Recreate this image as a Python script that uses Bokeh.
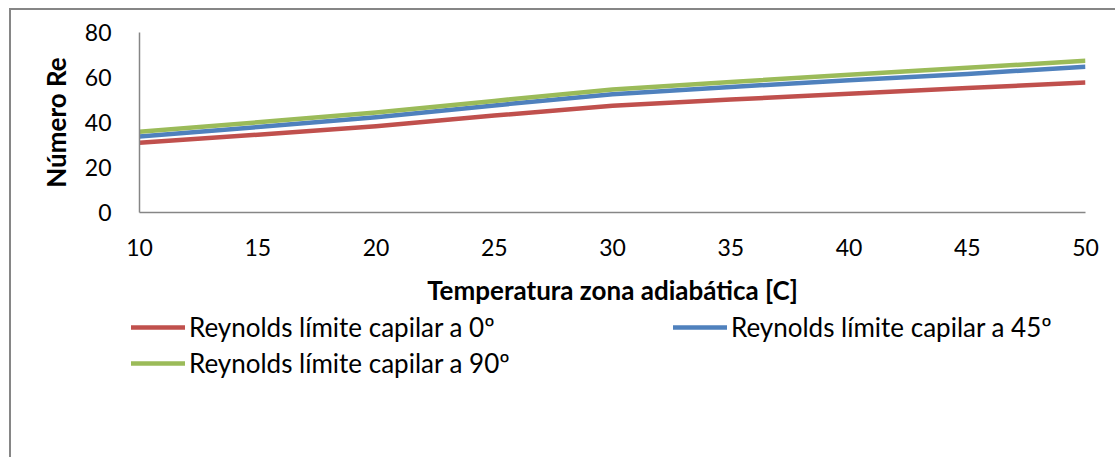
from bokeh.plotting import figure
from bokeh.models import Range1d, FixedTicker, Legend, LegendItem, ColumnDataSource
from bokeh.embed import file_html
from bokeh.resources import INLINE

# Adiabatic-zone temperature [C] and capillary-limit Reynolds numbers
temperatura = [10, 15, 20, 25, 30, 35, 40, 45, 50]
re_0 = [31.0, 34.6, 38.3, 43.1, 47.4, 50.2, 52.8, 55.3, 57.8]
re_45 = [33.8, 38.0, 42.3, 47.6, 52.6, 55.8, 58.8, 61.6, 64.8]
re_90 = [35.9, 40.1, 44.4, 49.6, 54.7, 58.0, 61.2, 64.3, 67.4]

series_labels = ["Reynolds límite capilar a 0º",
                 "Reynolds límite capilar a 45º",
                 "Reynolds límite capilar a 90º"]
series_colors = ["#C0504D", "#4F81BD", "#9BBB59"]
x_ticks = [10, 15, 20, 25, 30, 35, 40, 45, 50]
y_ticks = [0, 20, 40, 60, 80]

FONT = "Lato"
AXIS_GREY = "#868686"
LINE_W = 4.5
BORDER = "2px solid #868686"

# --- chart area -------------------------------------------------------------
p = figure(width=1106, height=300, output_backend="svg", toolbar_location=None,
           x_range=Range1d(10, 50), y_range=Range1d(0, 80),
           min_border_left=128, min_border_right=32,
           min_border_top=22, min_border_bottom=98)
p.styles = {"border-left": BORDER, "border-top": BORDER,
            "margin-left": "9px", "margin-top": "8px"}
p.outline_line_color = None
p.background_fill_color = "white"
p.border_fill_color = "white"
p.grid.visible = False

src = ColumnDataSource(dict(t=temperatura, r0=re_0, r45=re_45, r90=re_90))
for col, color in zip(["r0", "r45", "r90"], series_colors):
    p.line("t", col, source=src, line_color=color, line_width=LINE_W, line_join="round")

for ax in (p.xaxis[0], p.yaxis[0]):
    ax.axis_line_color = AXIS_GREY
    ax.axis_line_width = 1.5
    ax.major_tick_out = 0
    ax.major_tick_in = 0
    ax.minor_tick_out = 0
    ax.minor_tick_in = 0
    ax.major_label_text_font = FONT
    ax.major_label_text_font_size = "23px"
    ax.major_label_text_color = "black"
    ax.axis_label_text_font = FONT
    ax.axis_label_text_font_size = "26px"
    ax.axis_label_text_font_style = "bold"
    ax.axis_label_text_color = "black"

p.xaxis.ticker = FixedTicker(ticks=x_ticks)
p.yaxis.ticker = FixedTicker(ticks=y_ticks)
p.xaxis.axis_label = "Temperatura zona adiabática [C]"
p.yaxis.axis_label = "Número Re"
p.xaxis.major_label_standoff = 26
p.yaxis.major_label_standoff = 28
p.xaxis.axis_label_standoff = 15
p.yaxis.axis_label_standoff = 10

# --- legend strip under the chart ------------------------------------------
leg = figure(width=1106, height=149, output_backend="svg", toolbar_location=None,
             x_range=Range1d(0, 1), y_range=Range1d(0, 1),
             x_axis_location=None, y_axis_location=None,
             min_border_left=0, min_border_right=0, min_border_top=0, min_border_bottom=0)
leg.styles = {"border-left": BORDER, "margin-left": "9px"}
leg.outline_line_color = None
leg.grid.visible = False
leg.background_fill_color = "white"
leg.border_fill_color = "white"

# single-point lines: nothing is drawn in the strip, they only supply legend keys
key_renderers = [leg.line(x=[0], y=[0], line_color=c, line_width=LINE_W, line_cap="round")
                 for c in series_colors]


def make_legend(items, loc):
    lg = Legend(items=items, orientation="horizontal", location=loc)
    lg.label_text_font = FONT
    lg.label_text_font_size = "26px"
    lg.label_text_color = "black"
    lg.glyph_width = 54
    lg.glyph_height = 30
    lg.label_height = 30
    lg.label_width = 480
    lg.label_standoff = 4
    lg.padding = 0
    lg.margin = 0
    lg.spacing = 4
    lg.border_line_alpha = 0
    lg.background_fill_alpha = 0
    return lg


leg.add_layout(make_legend([LegendItem(label=series_labels[0], renderers=[key_renderers[0]]),
                            LegendItem(label=series_labels[1], renderers=[key_renderers[1]])],
                           (120, 114)), "center")
leg.add_layout(make_legend([LegendItem(label=series_labels[2], renderers=[key_renderers[2]])],
                           (120, 78)), "center")

open("out.html", "w").write(file_html([p, leg], INLINE))
